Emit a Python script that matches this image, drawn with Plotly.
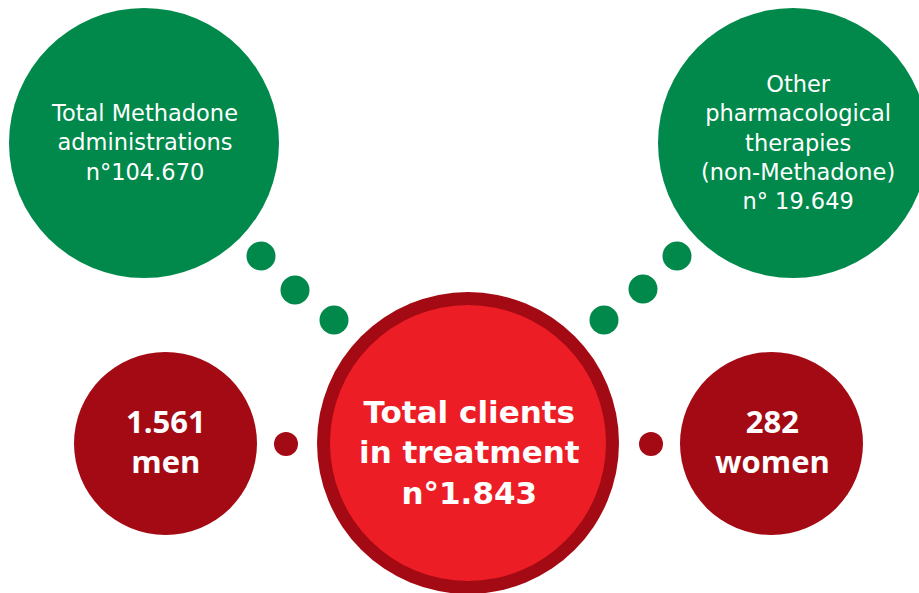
import plotly.graph_objects as go

# ---- data ----
methadone_admin = "104.670"
other_therapies = "19.649"
total_clients = "1.843"
men = "1.561"
women = "282"

# text lines per circle
lines_methadone = ["Total Methadone", "administrations", "n°" + methadone_admin]
lines_other = ["Other", "pharmacological", "therapies", "(non-Methadone)", "n° " + other_therapies]
lines_total = ["Total clients", "in treatment", "n°" + total_clients]
lines_men = [men, "men"]
lines_women = [women, "women"]

# ---- layout (pixel geometry) ----
W, H = 919, 593
GREEN = "#00894B"
DARK = "#A30A14"
RED = "#ED1D25"

# big circles: (cx, cy, r, fill, border_color, border_w)
big = [
    (144, 143, 135, GREEN, None, 0),
    (793, 143, 135, GREEN, None, 0),
    (468, 443, 151, RED, DARK, 13),
    (165.5, 443.5, 91.5, DARK, None, 0),
    (771.5, 443.5, 91.5, DARK, None, 0),
]
# small dots: (cx, cy, r, color)
dots = [
    (261, 256, 14.5, GREEN), (295, 290, 14.5, GREEN), (334, 320, 14.5, GREEN),
    (677, 256, 14.5, GREEN), (643, 289, 14.5, GREEN), (604, 320, 14.5, GREEN),
    (286, 444, 12, DARK), (651, 444, 12, DARK),
]
# text blocks: (lines, center x, center y, size, bold, font)
blocks = [
    (lines_methadone, 144, 142.5, 22.5, False, "DejaVu Sans"),
    (lines_other, 798, 142.8, 22.5, False, "DejaVu Sans"),
    (lines_total, 469, 452.3, 31, True, "DejaVu Sans"),
    (lines_men, 166, 440.7, 31, True, "Open Sans"),
    (lines_women, 772, 440.8, 31, True, "Open Sans"),
]

fig = go.Figure()
shapes = []


def circ(cx, cy, r, c):
    return dict(type="circle", xref="x", yref="y", x0=cx - r, x1=cx + r,
                y0=cy - r, y1=cy + r, fillcolor=c, line=dict(width=0), layer="below")


for cx, cy, r, fill, bc, bw in big:
    if bc:
        shapes.append(circ(cx, cy, r, bc))
        shapes.append(circ(cx, cy, r - bw, fill))
    else:
        shapes.append(circ(cx, cy, r, fill))
for cx, cy, r, c in dots:
    shapes.append(circ(cx, cy, r, c))

annotations = []
for lines, x, y, s, bold, fam in blocks:
    text = "<br>".join(lines)
    if bold:
        text = "<b>" + text + "</b>"
    annotations.append(dict(x=x, y=y, xref="x", yref="y", text=text, showarrow=False,
                            font=dict(family=fam, size=s, color="white"),
                            align="center", xanchor="center", yanchor="middle"))

fig.add_trace(go.Scatter(x=[0, W], y=[0, H], mode="markers", marker=dict(opacity=0),
                         hoverinfo="skip", showlegend=False))
fig.update_layout(
    width=W, height=H, margin=dict(l=0, r=0, t=0, b=0),
    paper_bgcolor="white", plot_bgcolor="white",
    xaxis=dict(range=[0, W], visible=False, fixedrange=True),
    yaxis=dict(range=[H, 0], visible=False, fixedrange=True),
    shapes=shapes, annotations=annotations, showlegend=False,
)
fig.write_html("out.html", config={"displayModeBar": False},
               post_script="document.body.style.margin='0';")
